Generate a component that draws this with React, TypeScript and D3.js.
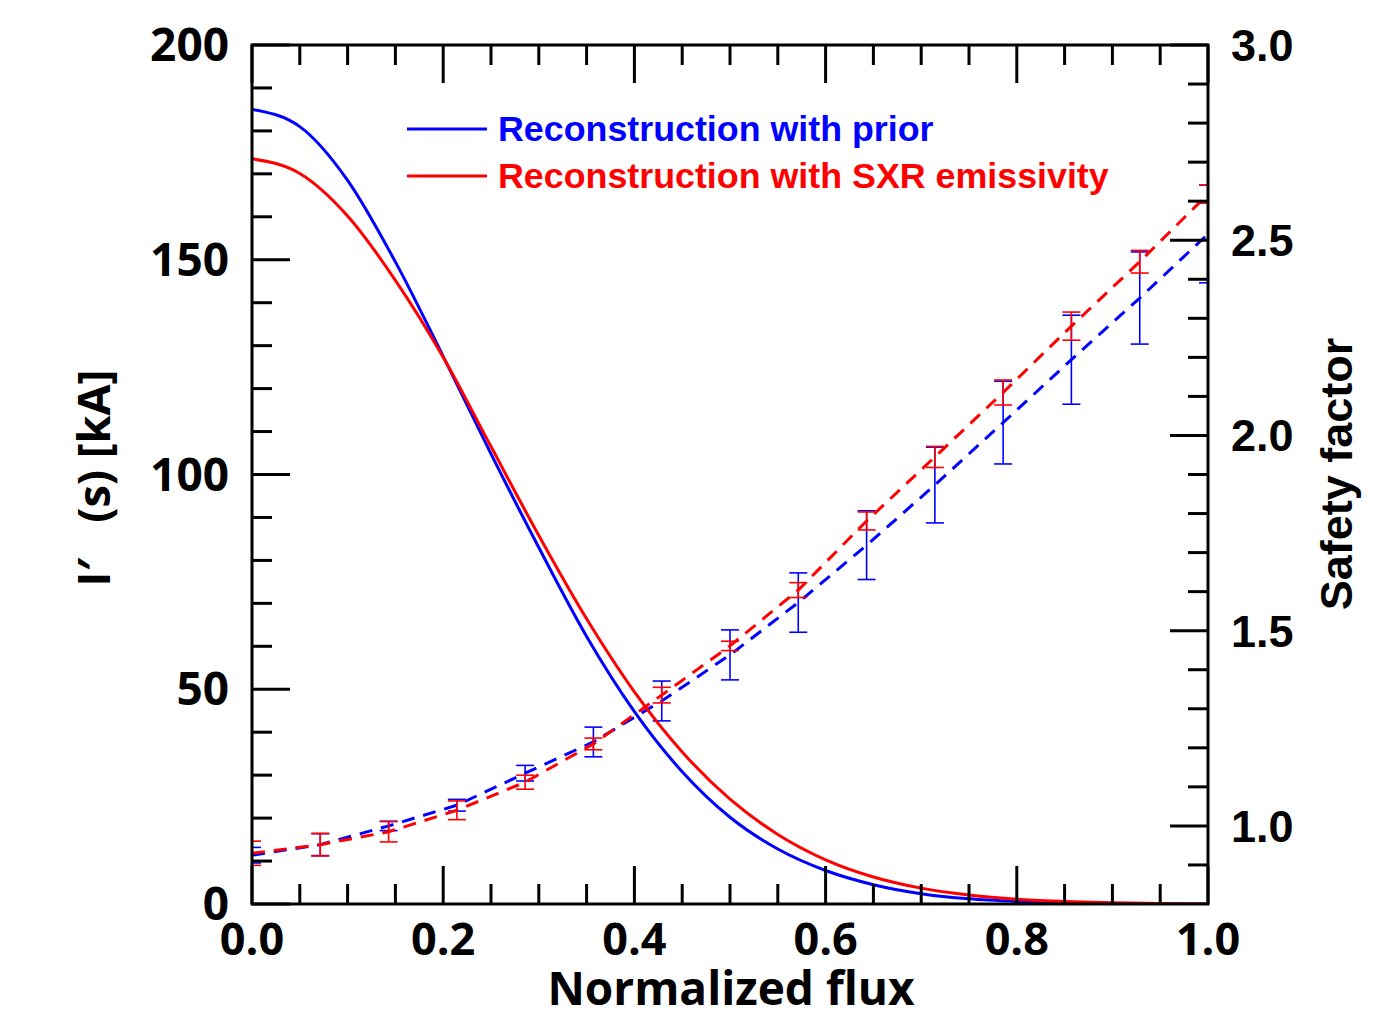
import React from "react";
import * as d3 from "d3";

// ---- data ----
const fluxCurve = [0, 0.05, 0.1, 0.15, 0.2, 0.25, 0.3, 0.35, 0.4, 0.45, 0.5, 0.55, 0.6, 0.65, 0.7, 0.75, 0.8, 0.85, 0.9, 0.95, 1.0];
const currentPrior = [185, 181, 168.5, 149.5, 127.5, 104.8, 83.0, 62.3, 44.8, 30.8, 20.2, 12.8, 7.8, 4.5, 2.4, 1.2, 0.6, 0.3, 0.1, 0, 0];
const currentSXR = [173.5, 170.1, 160.2, 145.2, 127.3, 106.5, 85.8, 66.4, 49.4, 35.4, 24.4, 16.2, 10.3, 6.3, 3.7, 2.1, 1.1, 0.6, 0.3, 0.1, 0];

const fluxQ = [0, 0.0714, 0.1429, 0.2143, 0.2857, 0.3571, 0.4286, 0.5, 0.5714, 0.6429, 0.7143, 0.7857, 0.8571, 0.9286, 1.0];
const qPrior = [0.925, 0.952, 1.0, 1.053, 1.135, 1.215, 1.32, 1.438, 1.572, 1.719, 1.873, 2.033, 2.194, 2.352, 2.516];
const qPriorErr = [0.02, 0.028, 0.012, 0.015, 0.02, 0.038, 0.051, 0.064, 0.076, 0.088, 0.097, 0.106, 0.114, 0.118, 0.125];
const qSXR = [0.93, 0.952, 0.985, 1.04, 1.112, 1.21, 1.335, 1.461, 1.604, 1.781, 1.945, 2.11, 2.28, 2.445, 2.618];
const qSXRErr = [0.031, 0.029, 0.026, 0.024, 0.018, 0.015, 0.02, 0.012, 0.019, 0.023, 0.027, 0.032, 0.036, 0.029, 0.023];

const xTickLabels = ["0.0", "0.2", "0.4", "0.6", "0.8", "1.0"];
const yLeftTickLabels = ["0", "50", "100", "150", "200"];
const yRightTickLabels = ["1.0", "1.5", "2.0", "2.5", "3.0"];

const legendLabels = ["Reconstruction with prior", "Reconstruction with SXR emissivity"];
const seriesColors = ["#0000ff", "#ff0000"];

const xLabel = "Normalized flux";
const yLeftLabel = "I\u2032   (s) [kA]";
const yRightLabel = "Safety factor";

// ---- layout ----
const W = 1375;
const H = 1017;
const L = 252, R = 1208, T = 45, B = 904;
const openSans = "'Open Sans', 'DejaVu Sans', sans-serif";
const helv = "'Liberation Sans', Arial, sans-serif";

export default function App() {
  const x = d3.scaleLinear().domain([0, 1]).range([L, R]);
  const yL = d3.scaleLinear().domain([0, 200]).range([B, T]);
  const yR = d3.scaleLinear().domain([0.8, 3.0]).range([B, T]);

  const xMinor = d3.range(0, 1.0001, 0.05);
  const yLMinor = d3.range(0, 200.001, 10);
  const yRMinor = d3.range(0.9, 3.0001, 0.1);

  const isMajor = (v: number, step: number) => Math.abs(v / step - Math.round(v / step)) < 1e-6;

  const curveLine = d3
    .line<[number, number]>()
    .x((d) => x(d[0]))
    .y((d) => yL(d[1]))
    .curve(d3.curveMonotoneX);
  const qLine = d3
    .line<[number, number]>()
    .x((d) => x(d[0]))
    .y((d) => yR(d[1]));

  const currents = [currentPrior, currentSXR];
  const qs = [qPrior, qSXR];
  const qErrs = [qPriorErr, qSXRErr];
  const cap = 9;

  return (
    <svg
      width={W}
      height={H}
      style={{ position: "absolute", left: 0, top: 0, background: "#fff" }}
    >
      <defs>
        <clipPath id="plotClip">
          <rect x={L} y={T} width={R - L} height={B - T} />
        </clipPath>
      </defs>
      <rect x={0} y={0} width={W} height={H} fill="#fff" />

      {/* q dashed lines + error bars */}
      <g clipPath="url(#plotClip)">
        {qs.map((q, si) => (
          <g key={"q" + si}>
            <path
              d={qLine(fluxQ.map((f, i) => [f, q[i]] as [number, number])) || ""}
              fill="none"
              stroke={seriesColors[si]}
              strokeWidth={3}
              strokeDasharray="13 9"
            />
            {fluxQ.map((f, i) => {
              const cx = x(f);
              const y1 = yR(q[i] + qErrs[si][i]);
              const y2 = yR(q[i] - qErrs[si][i]);
              return (
                <g key={i} stroke={seriesColors[si]} strokeWidth={1.6}>
                  <line x1={cx} x2={cx} y1={y1} y2={y2} />
                  <line x1={cx - cap} x2={cx + cap} y1={y1} y2={y1} />
                  <line x1={cx - cap} x2={cx + cap} y1={y2} y2={y2} />
                </g>
              );
            })}
          </g>
        ))}
        {currents.map((c, si) => (
          <path
            key={"c" + si}
            d={curveLine(fluxCurve.map((f, i) => [f, c[i]] as [number, number])) || ""}
            fill="none"
            stroke={seriesColors[si]}
            strokeWidth={3}
          />
        ))}
      </g>

      {/* ticks */}
      <g stroke="#000" strokeWidth={3}>
        {xMinor.map((v, i) => {
          const len = isMajor(v, 0.2) ? 38 : 20;
          return (
            <g key={"xt" + i}>
              <line x1={x(v)} x2={x(v)} y1={B} y2={B - len} />
              <line x1={x(v)} x2={x(v)} y1={T} y2={T + len} />
            </g>
          );
        })}
        {yLMinor.map((v, i) => {
          const len = isMajor(v, 50) ? 38 : 20;
          return <line key={"yl" + i} x1={L} x2={L + len} y1={yL(v)} y2={yL(v)} />;
        })}
        {yRMinor.map((v, i) => {
          const len = isMajor(v, 0.5) ? 38 : 20;
          return <line key={"yr" + i} x1={R} x2={R - len} y1={yR(v)} y2={yR(v)} />;
        })}
        <rect x={L} y={T} width={R - L} height={B - T} fill="none" />
      </g>

      {/* tick labels */}
      <g fontFamily={openSans} fontWeight="bold" fill="#000">
        {xTickLabels.map((t) => (
          <text key={t} x={x(+t)} y={955} fontSize={45} textAnchor="middle">
            {t}
          </text>
        ))}
        {yLeftTickLabels.map((t) => (
          <text key={t} x={229} y={yL(+t) + 16} fontSize={46} textAnchor="end">
            {t}
          </text>
        ))}
      </g>
      <g fontFamily={helv} fontWeight="bold" fill="#000">
        {yRightTickLabels.map((t) => (
          <text key={t} x={1231} y={yR(+t) + 16} fontSize={45} textAnchor="start">
            {t}
          </text>
        ))}
      </g>

      {/* axis titles */}
      <text
        x={731}
        y={1005}
        fontFamily={openSans}
        fontWeight="bold"
        fontSize={46}
        textAnchor="middle"
      >
        {xLabel}
      </text>
      <text
        transform={`translate(110, 478) rotate(-90)`}
        fontFamily={openSans}
        fontWeight="bold"
        fontSize={45}
        textAnchor="middle"
        xmlSpace="preserve"
        style={{ whiteSpace: "pre" }}
      >
        {yLeftLabel}
      </text>
      <text
        transform={`translate(1352, 474) rotate(-90)`}
        fontFamily={helv}
        fontWeight="bold"
        fontSize={45}
        textAnchor="middle"
      >
        {yRightLabel}
      </text>

      {/* legend */}
      {legendLabels.map((lab, i) => (
        <g key={lab}>
          <line
            x1={407}
            x2={487}
            y1={129 + i * 47}
            y2={129 + i * 47}
            stroke={seriesColors[i]}
            strokeWidth={3}
          />
          <text
            x={498}
            y={141 + i * 47}
            fontFamily={helv}
            fontWeight="bold"
            fontSize={35.8}
            fill={seriesColors[i]}
          >
            {lab}
          </text>
        </g>
      ))}
    </svg>
  );
}
